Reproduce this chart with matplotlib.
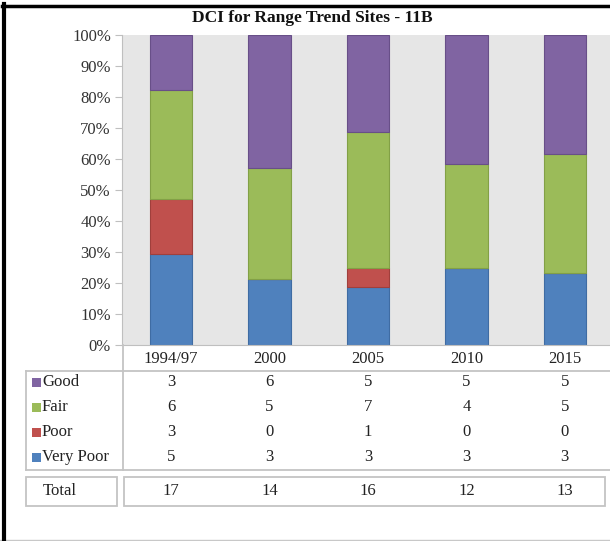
import matplotlib
matplotlib.use("Agg")
import matplotlib.pyplot as plt
import matplotlib.transforms as mtransforms
from matplotlib.lines import Line2D
from matplotlib.patches import Rectangle
import numpy as np

# ---- data (site counts per DCI class) ----
years = ["1994/97", "2000", "2005", "2010", "2015"]
very_poor = [5, 3, 3, 3, 3]
poor = [3, 0, 1, 0, 0]
fair = [6, 5, 7, 4, 5]
good = [3, 6, 5, 5, 5]
totals = [17, 14, 16, 12, 13]

classes = ["Very Poor", "Poor", "Fair", "Good"]
counts = [very_poor, poor, fair, good]
colors = ["#4F81BD", "#C0504D", "#9BBB59", "#8064A2"]
edges = ["#3F6CA3", "#A03F3C", "#82A046", "#684F88"]

W, H = 610, 541
plt.rcParams['font.family'] = ['Liberation Serif', 'DejaVu Serif']
FS = 12


def fx(x):
    return x / W


def fy(y):
    return 1 - y / H


fig = plt.figure(figsize=(W / 100, H / 100), dpi=100, facecolor='white')
ax = fig.add_axes([fx(122), fy(345), fx(492), 310 / H])
ax.set_facecolor('#E6E6E6')

x = np.arange(len(years))
tot = np.array(totals, dtype=float)
bottom = np.zeros(len(years))
for name, vals, c, ec in zip(classes, counts, colors, edges):
    frac = np.array(vals) / tot
    ax.bar(x, frac, 0.43, bottom=bottom, color=c, edgecolor=ec,
           linewidth=0.8, label=name)
    bottom += frac

ax.set_xlim(-0.5, 4.5)
ax.set_ylim(0, 1)
ax.set_yticks(np.arange(0, 1.01, 0.1))
ax.set_yticklabels(["{}%".format(int(round(v * 100))) for v in np.arange(0, 1.01, 0.1)])
ax.tick_params(axis='y', length=5, color='#BFBFBF', labelsize=FS,
               labelcolor='#333333', pad=3)
ax.set_xticks(x)
ax.set_xticklabels(years)
ax.tick_params(axis='x', length=0, labelsize=FS, labelcolor='#222222', pad=4)
for s in ['top', 'right']:
    ax.spines[s].set_visible(False)
ax.spines['left'].set_color('#BFBFBF')
ax.spines['bottom'].set_color('#BFBFBF')

fig.text(fx(312), fy(18), "DCI for Range Trend Sites - 11B", ha='center',
         va='center', fontsize=12.5, fontweight='bold', color='#111111')

# ---- data table ----
trans = mtransforms.blended_transform_factory(ax.transData, fig.transFigure)
row_y = [457, 432, 407, 382]  # very poor .. good
for name, vals, c, yy in zip(classes, counts, colors, row_y):
    fig.add_artist(Rectangle((fx(32), fy(yy + 4.5)), fx(9), 9 / H,
                             transform=fig.transFigure, facecolor=c,
                             edgecolor='none'))
    fig.text(fx(42), fy(yy), name, ha='left', va='center', fontsize=FS,
             color='#222222')
    for i, v in enumerate(vals):
        ax.text(i, fy(yy), str(v), transform=trans, ha='center',
                va='center', fontsize=FS, color='#222222')

line_kw = dict(transform=fig.transFigure, color='#C4C4C4', linewidth=1.3)
fig.add_artist(Line2D([fx(26), fx(610)], [fy(371), fy(371)], **line_kw))
fig.add_artist(Line2D([fx(26), fx(610)], [fy(470), fy(470)], **line_kw))
fig.add_artist(Line2D([fx(26), fx(26)], [fy(371), fy(470)], **line_kw))
fig.add_artist(Line2D([fx(122.5), fx(122.5)], [fy(345), fy(470)], **line_kw))

# total row
fig.add_artist(Rectangle((fx(26), fy(506)), fx(91), 29 / H,
                         transform=fig.transFigure, facecolor='none',
                         edgecolor='#C4C4C4', linewidth=1.3))
fig.add_artist(Rectangle((fx(124), fy(506)), fx(481), 29 / H,
                         transform=fig.transFigure, facecolor='none',
                         edgecolor='#C4C4C4', linewidth=1.3))
fig.text(fx(60), fy(491), "Total", ha='center', va='center', fontsize=FS,
         color='#222222')
for i, v in enumerate(totals):
    ax.text(i, fy(491), str(v), transform=trans, ha='center', va='center',
            fontsize=FS, color='#222222')

# outer frame bits
fig.add_artist(Line2D([fx(0), fx(610)], [fy(539.5), fy(539.5)],
                      transform=fig.transFigure, color='#C8C8C8', linewidth=1))
fig.add_artist(Line2D([fx(4), fx(4)], [fy(4), fy(541)],
                      transform=fig.transFigure, color='black', linewidth=3))
fig.add_artist(Line2D([fx(2), fx(610)], [fy(5.5), fy(5.5)],
                      transform=fig.transFigure, color='black', linewidth=2.5))

fig.savefig("out.png", dpi=100)
